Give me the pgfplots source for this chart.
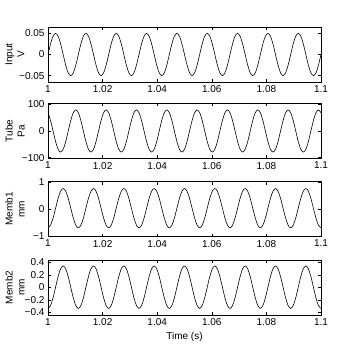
\documentclass[border=0pt]{standalone}
\usepackage{pgfplots}
\pgfplotsset{compat=1.18}
\usepackage{pgfplotstable}
\usepackage{fontspec}
\setmainfont{Liberation Sans}
% x column: time in units of 1/1080 s after t = 1 s (0 -> 1.00 s, 108 -> 1.10 s)
\pgfplotstableread{
x in tu m1 m2
0 0 68.4 -0.700 -0.335
1 0.025 39.5 -0.602 -0.289
2 0.0433 0 -0.335 -0.165
3 0.05 -39.5 0.030 0.005
4 0.0433 -68.4 0.395 0.175
5 0.025 -79 0.662 0.299
6 0 -68.4 0.760 0.345
7 -0.025 -39.5 0.662 0.299
8 -0.0433 0 0.395 0.175
9 -0.05 39.5 0.030 0.005
10 -0.0433 68.4 -0.335 -0.165
11 -0.025 79 -0.602 -0.289
12 0 68.4 -0.700 -0.335
13 0.025 39.5 -0.602 -0.289
14 0.0433 0 -0.335 -0.165
15 0.05 -39.5 0.030 0.005
16 0.0433 -68.4 0.395 0.175
17 0.025 -79 0.662 0.299
18 0 -68.4 0.760 0.345
19 -0.025 -39.5 0.662 0.299
20 -0.0433 0 0.395 0.175
21 -0.05 39.5 0.030 0.005
22 -0.0433 68.4 -0.335 -0.165
23 -0.025 79 -0.602 -0.289
24 0 68.4 -0.700 -0.335
25 0.025 39.5 -0.602 -0.289
26 0.0433 0 -0.335 -0.165
27 0.05 -39.5 0.030 0.005
28 0.0433 -68.4 0.395 0.175
29 0.025 -79 0.662 0.299
30 0 -68.4 0.760 0.345
31 -0.025 -39.5 0.662 0.299
32 -0.0433 0 0.395 0.175
33 -0.05 39.5 0.030 0.005
34 -0.0433 68.4 -0.335 -0.165
35 -0.025 79 -0.602 -0.289
36 0 68.4 -0.700 -0.335
37 0.025 39.5 -0.602 -0.289
38 0.0433 0 -0.335 -0.165
39 0.05 -39.5 0.030 0.005
40 0.0433 -68.4 0.395 0.175
41 0.025 -79 0.662 0.299
42 0 -68.4 0.760 0.345
43 -0.025 -39.5 0.662 0.299
44 -0.0433 0 0.395 0.175
45 -0.05 39.5 0.030 0.005
46 -0.0433 68.4 -0.335 -0.165
47 -0.025 79 -0.602 -0.289
48 0 68.4 -0.700 -0.335
49 0.025 39.5 -0.602 -0.289
50 0.0433 0 -0.335 -0.165
51 0.05 -39.5 0.030 0.005
52 0.0433 -68.4 0.395 0.175
53 0.025 -79 0.662 0.299
54 0 -68.4 0.760 0.345
55 -0.025 -39.5 0.662 0.299
56 -0.0433 0 0.395 0.175
57 -0.05 39.5 0.030 0.005
58 -0.0433 68.4 -0.335 -0.165
59 -0.025 79 -0.602 -0.289
60 0 68.4 -0.700 -0.335
61 0.025 39.5 -0.602 -0.289
62 0.0433 0 -0.335 -0.165
63 0.05 -39.5 0.030 0.005
64 0.0433 -68.4 0.395 0.175
65 0.025 -79 0.662 0.299
66 0 -68.4 0.760 0.345
67 -0.025 -39.5 0.662 0.299
68 -0.0433 0 0.395 0.175
69 -0.05 39.5 0.030 0.005
70 -0.0433 68.4 -0.335 -0.165
71 -0.025 79 -0.602 -0.289
72 0 68.4 -0.700 -0.335
73 0.025 39.5 -0.602 -0.289
74 0.0433 0 -0.335 -0.165
75 0.05 -39.5 0.030 0.005
76 0.0433 -68.4 0.395 0.175
77 0.025 -79 0.662 0.299
78 0 -68.4 0.760 0.345
79 -0.025 -39.5 0.662 0.299
80 -0.0433 0 0.395 0.175
81 -0.05 39.5 0.030 0.005
82 -0.0433 68.4 -0.335 -0.165
83 -0.025 79 -0.602 -0.289
84 0 68.4 -0.700 -0.335
85 0.025 39.5 -0.602 -0.289
86 0.0433 0 -0.335 -0.165
87 0.05 -39.5 0.030 0.005
88 0.0433 -68.4 0.395 0.175
89 0.025 -79 0.662 0.299
90 0 -68.4 0.760 0.345
91 -0.025 -39.5 0.662 0.299
92 -0.0433 0 0.395 0.175
93 -0.05 39.5 0.030 0.005
94 -0.0433 68.4 -0.335 -0.165
95 -0.025 79 -0.602 -0.289
96 0 68.4 -0.700 -0.335
97 0.025 39.5 -0.602 -0.289
98 0.0433 0 -0.335 -0.165
99 0.05 -39.5 0.030 0.005
100 0.0433 -68.4 0.395 0.175
101 0.025 -79 0.662 0.299
102 0 -68.4 0.760 0.345
103 -0.025 -39.5 0.662 0.299
104 -0.0433 0 0.395 0.175
105 -0.05 39.5 0.030 0.005
106 -0.0433 68.4 -0.335 -0.165
107 -0.025 79 -0.602 -0.289
108 0 68.4 -0.700 -0.335
}\data
\pgfplotsset{
  panel/.style={
    at={(48pt,#1)}, anchor=north west,
    scale only axis, width=273pt, height=55pt,
    xmin=0, xmax=108,
    xtick={0,21.6,43.2,64.8,86.4,108},
    xticklabels={1,1.02,1.04,1.06,1.08,1.1},
    scaled x ticks=false, scaled y ticks=false,
    tick align=inside, major tick length=3pt,
    tick style={black, line width=0.4pt},
    axis line style={line width=0.5pt},
    every tick label/.append style={font=\fontsize{10}{12}\selectfont},
    label style={font=\fontsize{10}{12}\selectfont},
    ylabel style={at={(axis description cs:-0.121,0.5)}, anchor=center, align=center},
  },
  curve/.style={black, line width=0.6pt, smooth, no marks},
}
\begin{document}
\begin{tikzpicture}
\useasboundingbox (0,0) rectangle (354pt,-355pt);
\begin{axis}[panel=-27pt, ymin=-0.065, ymax=0.065,
  ytick={-0.05,0,0.05}, yticklabels={−0.05,0,0.05}, ylabel={Input\\V}]
  \addplot[curve] table[x=x, y=in] {\data};
\end{axis}
\begin{axis}[panel=-103.5pt, ymin=-103, ymax=103,
  ytick={-100,0,100}, yticklabels={−100,0,100}, ylabel={Tube\\Pa}]
  \addplot[curve] table[x=x, y=tu] {\data};
\end{axis}
\begin{axis}[panel=-181.5pt, ymin=-1.02, ymax=1.02,
  ytick={-1,0,1}, yticklabels={−1,0,1}, ylabel={Memb1\\mm}]
  \addplot[curve] table[x=x, y=m1] {\data};
\end{axis}
\begin{axis}[panel=-260pt, ymin=-0.44, ymax=0.44,
  ytick={-0.4,-0.2,0,0.2,0.4}, yticklabels={−0.4,−0.2,0,0.2,0.4}, ylabel={Memb2\\mm},
  xlabel={Time (s)}]
  \addplot[curve] table[x=x, y=m2] {\data};
\end{axis}
\end{tikzpicture}
\end{document}
